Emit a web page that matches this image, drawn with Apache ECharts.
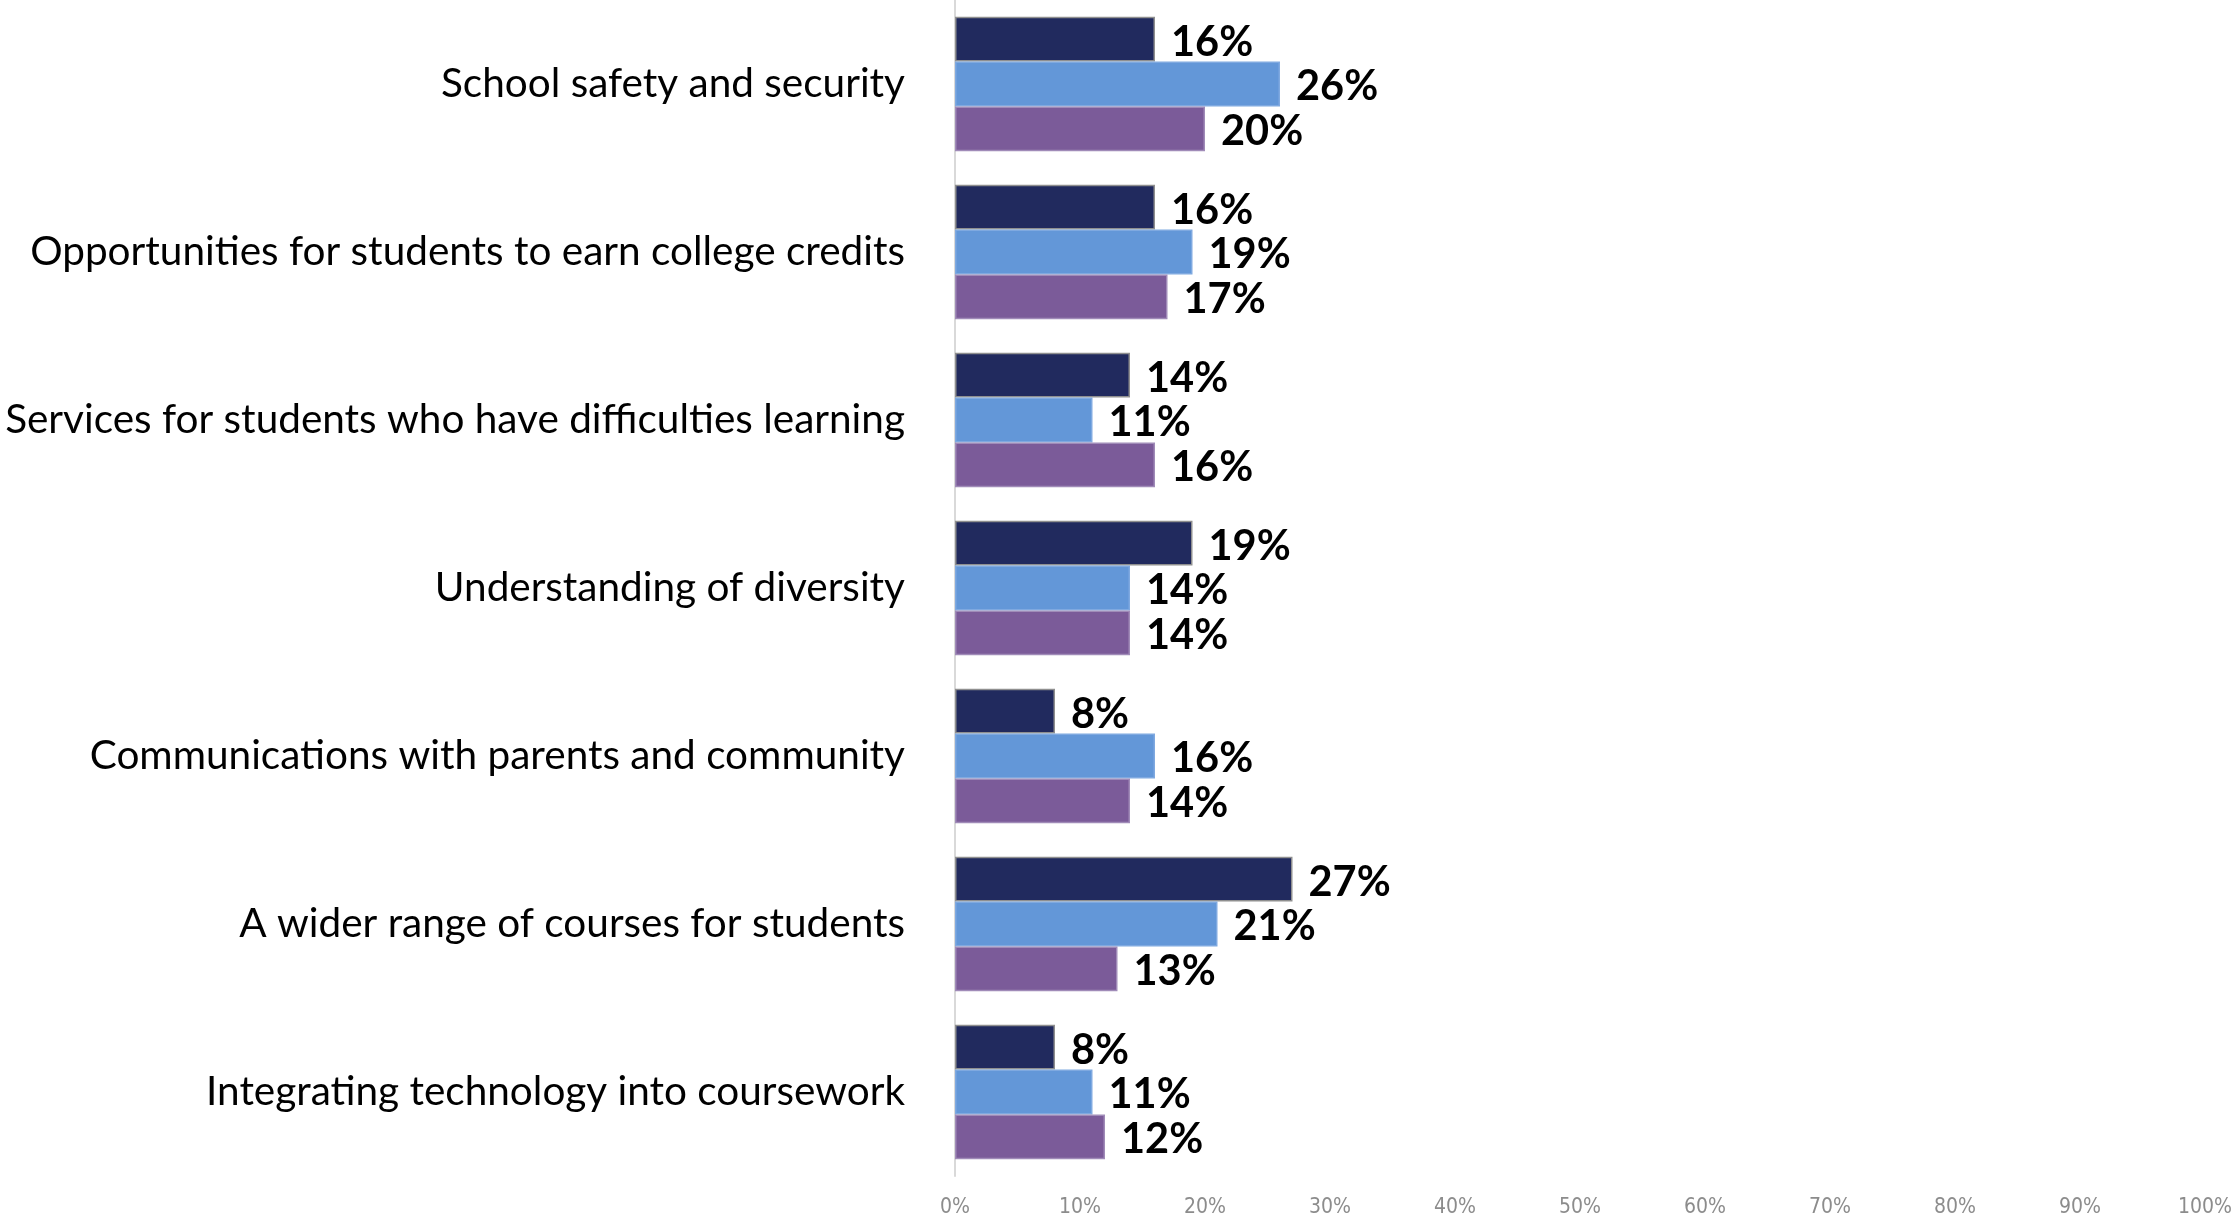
<!DOCTYPE html>
<html>
<head>
<meta charset="utf-8">
<script src="https://cdn.jsdelivr.net/npm/echarts@6/dist/echarts.min.js"></script>
<style>
  html, body { margin: 0; padding: 0; background: #ffffff; }
  #chart { width: 2235px; height: 1225px; }
</style>
</head>
<body>
<div id="chart"></div>
<script>
// Survey priorities, percent of respondents per group
const categories = [
  'School safety and security',
  'Opportunities for students to earn college credits',
  'Services for students who have difficulties learning',
  'Understanding of diversity',
  'Communications with parents and community',
  'A wider range of courses for students',
  'Integrating technology into coursework'
];
const groupA = [16, 16, 14, 19, 8, 27, 8];
const groupB = [26, 19, 11, 14, 16, 21, 11];
const groupC = [20, 17, 16, 14, 14, 13, 12];
const axisTicks = [0, 10, 20, 30, 40, 50, 60, 70, 80, 90, 100];

const labelStyle = {
  show: true,
  position: 'right',
  distance: 16,
  offset: [0, 3],
  formatter: '{c}%',
  fontFamily: 'Lato',
  fontWeight: 'bold',
  fontSize: 41.5,
  color: '#000000'
};

function barSeries(name, values, color, border) {
  return {
    name: name,
    type: 'bar',
    data: values,
    barGap: '0%',
    barCategoryGap: '20%',
    itemStyle: { color: color, borderColor: border, borderWidth: border ? 1.5 : 0 },
    label: labelStyle,
    silent: true,
    animation: false
  };
}

const chart = echarts.init(document.getElementById('chart'), null, { renderer: 'canvas' });
chart.setOption({
  backgroundColor: '#ffffff',
  animation: false,
  grid: { left: 955, right: 28, top: 0, bottom: 49, containLabel: false },
  xAxis: {
    type: 'value',
    min: axisTicks[0],
    max: axisTicks[axisTicks.length - 1],
    interval: 10,
    axisLine: { show: false },
    axisTick: { show: false },
    splitLine: { show: false },
    axisLabel: {
      formatter: '{value}%',
      color: '#8c8c8c',
      fontFamily: 'Liberation Sans Narrow, DejaVu Sans Condensed, sans-serif',
      fontSize: 21,
      margin: 21
    }
  },
  yAxis: {
    type: 'category',
    data: categories,
    inverse: true,
    axisLine: { show: true, lineStyle: { color: '#d9d9d9', width: 2 } },
    axisTick: { show: false },
    axisLabel: {
      color: '#000000',
      fontFamily: 'Lato',
      fontSize: 40.5,
      margin: 50
    }
  },
  series: [
    barSeries('A', groupA, '#212a5e', '#8f8f8f'),
    barSeries('B', groupB, '#6397d8', '#7fa9e0'),
    barSeries('C', groupC, '#7b5b99', '#a08bb8')
  ]
});
</script>
</body>
</html>
